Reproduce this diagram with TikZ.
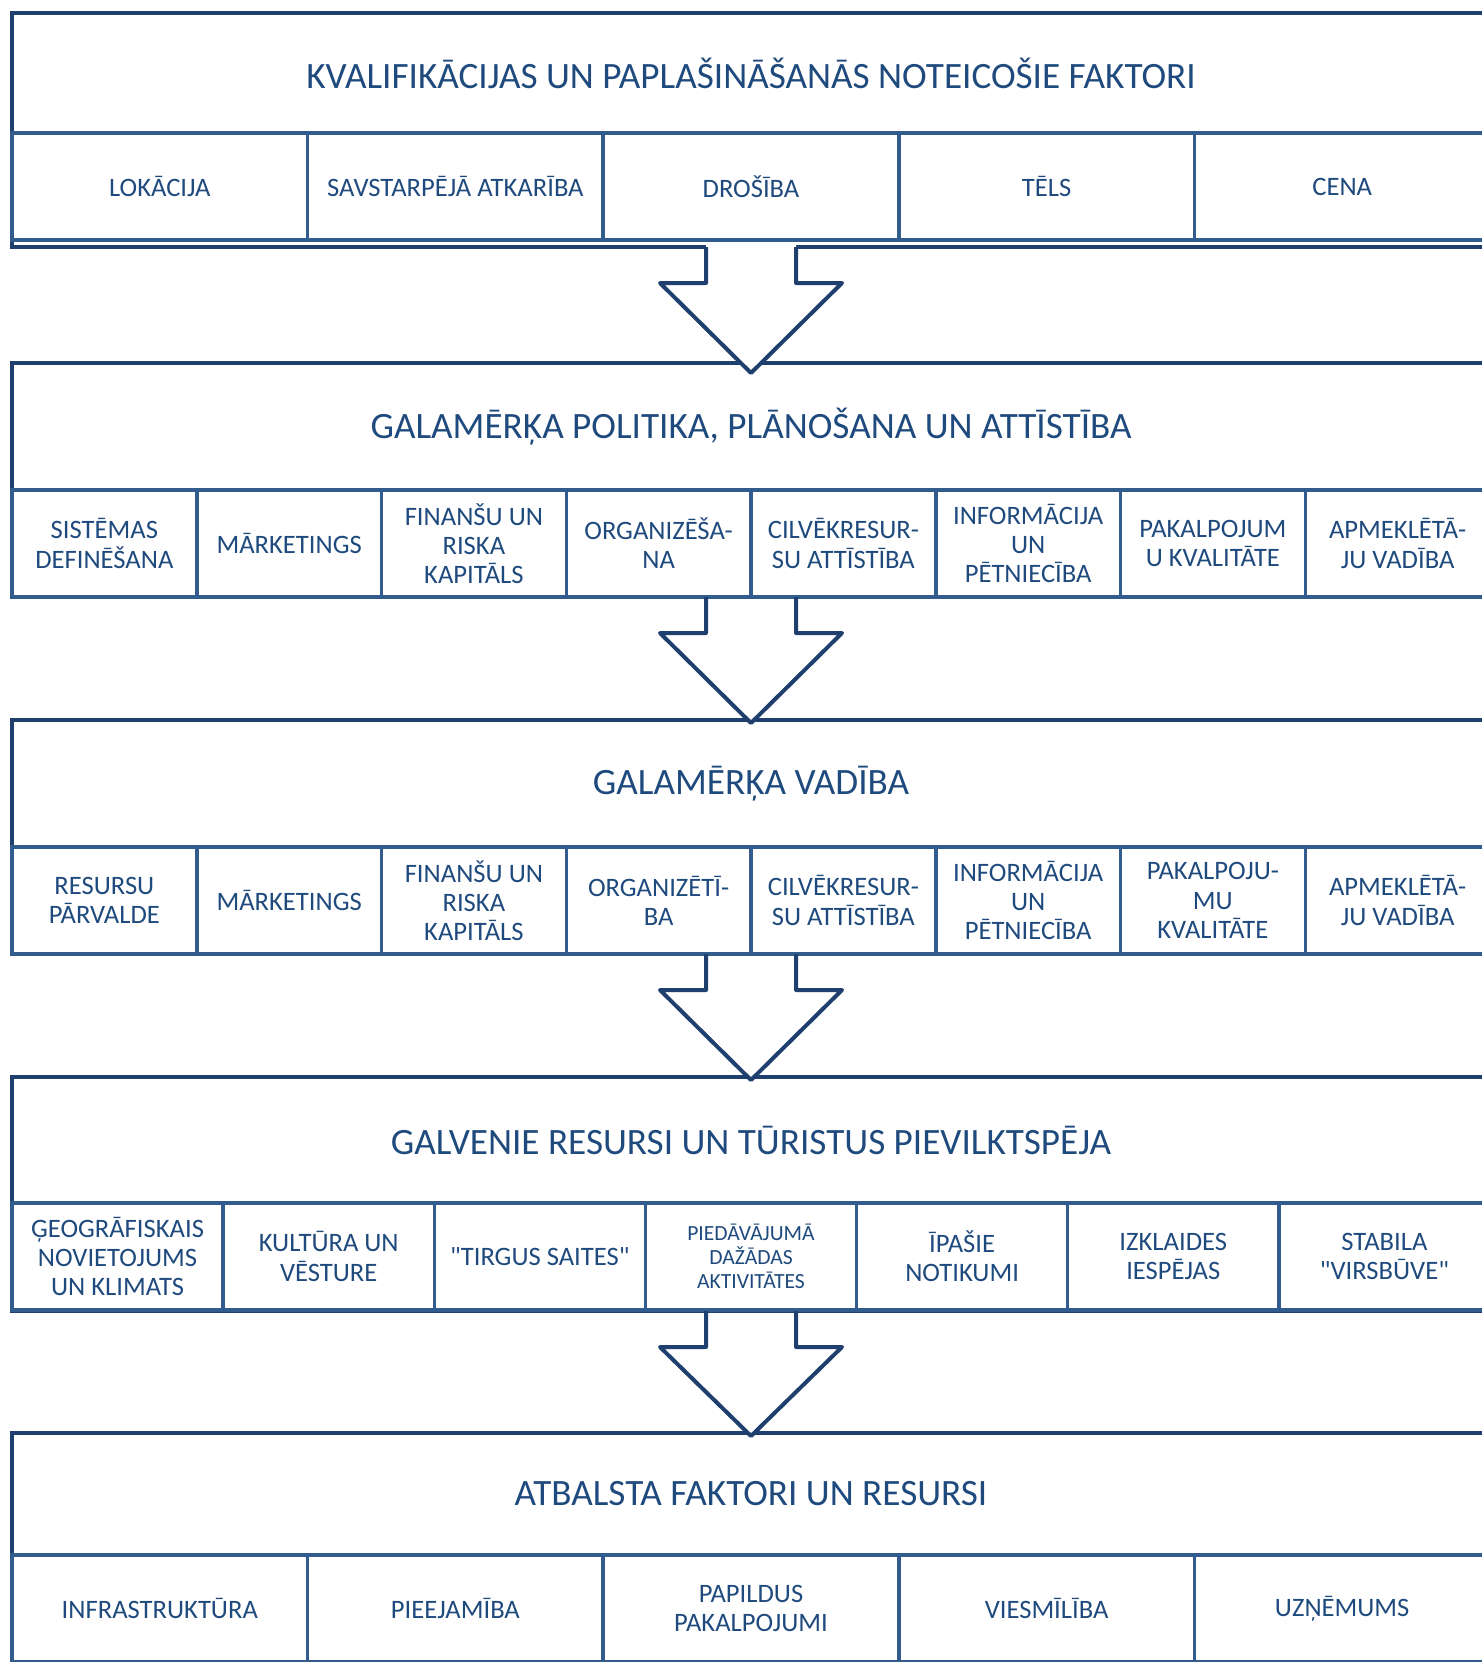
\documentclass[tikz,border=0pt]{standalone}
\usepackage{fontspec}
\setmainfont{Carlito}[Ligatures=TeXOff]
\usetikzlibrary{calc}
\definecolor{outerc}{HTML}{1F3F6E}
\definecolor{cellc}{HTML}{335C8E}
\definecolor{textc}{HTML}{1F4A7D}
\tikzset{
  outerbox/.style={draw=outerc, line width=2pt, rectangle, inner sep=0pt, outer sep=0pt,
    anchor=north west, minimum width=739pt, minimum height=117pt},
  cellbox/.style={draw=cellc, line width=1.75pt, rectangle, inner sep=1pt, outer sep=0pt,
    minimum height=53.5pt, align=center, text=textc, font=\fontsize{13.3}{14.6}\selectfont},
  smallcell/.style={cellbox, font=\fontsize{10.8}{12}\selectfont},
  titletext/.style={text=textc, font=\fontsize{18.6}{22}\selectfont, inner sep=0pt},
  arrowline/.style={draw=outerc, line width=2pt, line join=round},
}
\begin{document}
\begin{tikzpicture}[x=0.5pt,y=-0.5pt]
\path[use as bounding box] (0,0) rectangle (1482,1662);
\clip (0,0) rectangle (1482,1662);

% ---------- Section 1
\node[outerbox] (s1) at (12,13) {};
\node[titletext] (t1) at (751,73) {KVALIFIKĀCIJAS UN PAPLAŠINĀŠANĀS NOTEICOŠIE FAKTORI};
\foreach \t [count=\i] in {LOKĀCIJA, SAVSTARPĒJĀ ATKARĪBA, DROŠĪBA, TĒLS, CENA}
  \node[cellbox, minimum width=147.8pt] (a\i) at ({12+(\i-0.5)*295.6},186.5) {\t};

% ---------- Section 2
\node[outerbox] (s2) at (12,363) {};
\node[titletext] (t2) at (751,426.5) {GALAMĒRĶA POLITIKA, PLĀNOŠANA UN ATTĪSTĪBA};
\foreach \t [count=\i] in {{SISTĒMAS\\DEFINĒŠANA}, MĀRKETINGS, {FINANŠU UN\\RISKA\\KAPITĀLS},
    {ORGANIZĒŠA-\\NA}, {CILVĒKRESUR-\\SU ATTĪSTĪBA}, {INFORMĀCIJA\\UN\\PĒTNIECĪBA},
    {PAKALPOJUM\\U KVALITĀTE}, {APMEKLĒTĀ-\\JU VADĪBA}}
  \node[cellbox, minimum width=92.375pt] (b\i) at ({12+(\i-0.5)*184.75},543.5) {\t};

% ---------- Section 3
\node[outerbox] (s3) at (12,720) {};
\node[titletext] (t3) at (751,783.5) {GALAMĒRĶA VADĪBA};
\foreach \t [count=\i] in {{RESURSU\\PĀRVALDE}, MĀRKETINGS, {FINANŠU UN\\RISKA\\KAPITĀLS},
    {ORGANIZĒTĪ-\\BA}, {CILVĒKRESUR-\\SU ATTĪSTĪBA}, {INFORMĀCIJA\\UN\\PĒTNIECĪBA},
    {PAKALPOJU-\\MU\\KVALITĀTE}, {APMEKLĒTĀ-\\JU VADĪBA}}
  \node[cellbox, minimum width=92.375pt] (c\i) at ({12+(\i-0.5)*184.75},900.5) {\t};

% ---------- Section 4
\node[outerbox] (s4) at (12,1077) {};
\node[titletext] (t4) at (751,1140) {GALVENIE RESURSI UN TŪRISTUS PIEVILKTSPĒJA};
\node[cellbox, minimum width=105.57pt] (d1) at ({12+0.5*211.14},1256.5) {ĢEOGRĀFISKAIS\\NOVIETOJUMS\\UN KLIMATS};
\node[cellbox, minimum width=105.57pt] (d2) at ({12+1.5*211.14},1256.5) {KULTŪRA UN\\VĒSTURE};
\node[cellbox, minimum width=105.57pt] (d3) at ({12+2.5*211.14},1256.5) {"TIRGUS SAITES"};
\node[smallcell, minimum width=105.57pt] (d4) at ({12+3.5*211.14},1256.5) {PIEDĀVĀJUMĀ\\DAŽĀDAS\\AKTIVITĀTES};
\node[cellbox, minimum width=105.57pt] (d5) at ({12+4.5*211.14},1256.5) {ĪPAŠIE\\NOTIKUMI};
\node[cellbox, minimum width=105.57pt] (d6) at ({12+5.5*211.14},1256.5) {IZKLAIDES\\IESPĒJAS};
\node[cellbox, minimum width=105.57pt] (d7) at ({12+6.5*211.14},1256.5) {STABILA\\"VIRSBŪVE"};

% ---------- Section 5
\node[outerbox] (s5) at (12,1433) {};
\node[titletext] (t5) at (751,1494) {ATBALSTA FAKTORI UN RESURSI};
\foreach \t [count=\i] in {INFRASTRUKTŪRA, PIEEJAMĪBA, {PAPILDUS\\PAKALPOJUMI}, VIESMĪLĪBA, UZŅĒMUMS}
  \node[cellbox, minimum width=147.8pt] (e\i) at ({12+(\i-0.5)*295.6},1608.5) {\t};

% ---------- Arrows
\foreach \from/\to/\st/\tip in {s1/s2/-2.5/10, s2/s3/2/3, s3/s4/2/3, s4/s5/2/3} {
  \fill[white] ($(\from.south)+(-45,\st)$) -- ($(\from.south)+(-45,36)$) -- ($(\from.south)+(-91,36)$)
    -- ($(\to.north)+(0,\tip)$) -- ($(\from.south)+(91,36)$) -- ($(\from.south)+(45,36)$)
    -- ($(\from.south)+(45,\st)$) -- cycle;
  \draw[arrowline] ($(\from.south)+(-45,0)$) -- ($(\from.south)+(-45,36)$) -- ($(\from.south)+(-91,36)$)
    -- ($(\to.north)+(0,\tip)$) -- ($(\from.south)+(91,36)$) -- ($(\from.south)+(45,36)$)
    -- ($(\from.south)+(45,0)$);
}
\end{tikzpicture}
\end{document}
